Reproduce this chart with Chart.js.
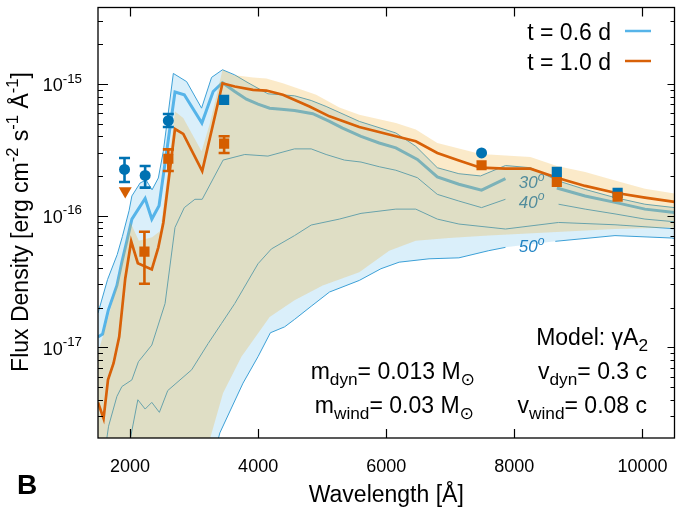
<!DOCTYPE html>
<html><head><meta charset="utf-8">
<script src="https://cdn.jsdelivr.net/npm/chart.js@4.4.1/dist/chart.umd.min.js"></script>
<style>html,body{margin:0;padding:0;background:#fff;}#wrap{position:relative;width:682px;height:519px;}</style>
</head><body><div id="wrap"><canvas id="c"></canvas></div>
<script>
// ---------------- data ----------------
const xTicks = [2000, 4000, 6000, 8000, 10000];
const yDecades = [-15, -16, -17];
const xRange = [1500, 10500];
const yRange = [2.05e-18, 3.8e-15];

// t = 0.6 d model band (blue): upper envelope and 50 deg lower envelope
const blueTopWl = [1500,1650,1800,1880,1985,2029,2158,2251,2344,2442,2520,2676,2884,3117,3273,3444,3635,3842,4153,4568,4828,5061,5579,6150,6461,6797,7134,7472,7861,8250,8690,9105,9571,10038,10500];
const blueTopFlux = [1.82e-17,3.28e-17,5.06e-17,6.92e-17,1.09e-16,1.41e-16,1.77e-16,1.86e-16,1.57e-16,1.93e-16,3.08e-16,1.20e-15,1.04e-15,6.54e-16,1.12e-15,1.28e-15,1.17e-15,1.02e-15,8.41e-16,8.12e-16,7.48e-16,6.74e-16,5.19e-16,4.24e-16,3.36e-16,2.31e-16,2.08e-16,2.00e-16,2.40e-16,2.31e-16,1.83e-16,1.58e-16,1.37e-16,1.22e-16,1.15e-16];
const blue50Wl = [1500,3000,3402,3764,3998,4191,4413,4569,4828,5114,5579,5917,6201,6668,7134,7601,7861,8250,8639,9571,10452,10500];
const blue50Flux = [1e-20,4e-19,2.24e-18,5.35e-18,8.49e-18,1.29e-17,1.43e-17,1.63e-17,2.05e-17,2.63e-17,3.22e-17,3.95e-17,4.43e-17,4.70e-17,4.78e-17,5.42e-17,5.74e-17,null,6.38e-17,7.05e-17,6.76e-17,6.70e-17];
// t = 0.6 d: 30 deg (thick), 40 deg, and intermediate angle
const blue30Wl = [1500,1572,1660,1795,1878,1951,2029,2236,2340,2453,2702,2847,3122,3298,3444,3635,3817,3998,4180,4362,4568,4853,5113,5319,5606,5890,6150,6486,6797,7134,7488,7861,8250,8663,9105,9571,10038,10500];
const blue30Flux = [1.20e-17,1.26e-17,1.91e-17,2.95e-17,4.56e-17,6.44e-17,9.41e-17,1.35e-16,9.41e-17,1.19e-16,8.67e-16,8.26e-16,5.04e-16,8.75e-16,1.02e-15,8.75e-16,7.65e-16,7.01e-16,6.54e-16,6.43e-16,6.29e-16,5.94e-16,5.19e-16,4.62e-16,4.00e-16,3.56e-16,3.27e-16,2.67e-16,1.97e-16,1.73e-16,1.56e-16,1.91e-16,null,1.62e-16,1.41e-16,1.26e-16,1.12e-16,1.055e-16];
const blue40Wl = [1500,1640,1665,1795,1873,2029,2131,2340,2547,2702,2847,3013,3127,3453,3791,4153,4568,4828,5061,5346,5606,5890,6150,6486,6797,7134,7488,7861,8250,8690,9105,9571,10038,10500];
const blue40Flux = [8e-19,2.07e-18,2.52e-18,4.24e-18,5.04e-18,5.66e-18,7.78e-18,1.04e-17,2.15e-17,8.13e-17,1.15e-16,1.33e-16,1.33e-16,2.64e-16,2.91e-16,2.83e-16,3.21e-16,3.21e-16,2.91e-16,2.64e-16,2.55e-16,2.35e-16,2.21e-16,1.94e-16,1.45e-16,1.29e-16,1.15e-16,1.33e-16,null,1.22e-16,1.12e-16,1.03e-16,9.41e-17,8.98e-17];
const blueMidWl = [1800,2002,2122,2236,2340,2458,2589,2962,3220,3429,3635,3998,4206,4568,4828,5268,5606,6150,6461,6797,7134,7861,8690,9571,10500];
const blueMidFlux = [8e-19,1.99e-18,4.00e-18,3.40e-18,3.82e-18,3.21e-18,4.70e-18,6.75e-18,1.07e-17,1.52e-17,2.15e-17,4.31e-17,5.58e-17,7.05e-17,8.48e-17,9.41e-17,1.04e-16,1.12e-16,1.12e-16,9.41e-17,8.63e-17,7.91e-17,8.87e-17,8.52e-17,7.95e-17];

// t = 1.0 d model band (orange) and its main curve
const orangeTopWl = [1500,1618,1749,1878,2007,2138,2344,2474,2551,2702,2831,3117,3246,3444,3609,3920,4128,4386,4906,5268,5579,6150,6461,6797,7472,8250,8663,9105,9571,10038,10500];
const orangeTopFlux = [9.06e-18,1.43e-17,2.41e-17,4.56e-17,8.87e-17,6.45e-17,6.84e-17,7.68e-17,1.54e-16,6.18e-16,5.50e-16,3.08e-16,5.01e-16,1.28e-15,1.17e-15,1.12e-15,1.10e-15,1.01e-15,8.26e-16,6.62e-16,5.83e-16,5.04e-16,4.50e-16,3.56e-16,2.93e-16,2.79e-16,2.38e-16,2.14e-16,1.85e-16,1.60e-16,1.47e-16];
const orangeBotWl = [1500,3000,3246,3453,3739,4180,4568,5008,5579,6046,6461,6979,7601,9571,10500];
const orangeBotFlux = [1e-20,4e-19,2.0e-18,4.50e-18,8.49e-18,1.70e-17,2.28e-17,2.95e-17,3.72e-17,5.42e-17,6.45e-17,6.76e-17,7.05e-17,7.91e-17,8.13e-17];
const orangeWl = [1500,1587,1656,1743,1831,1925,2018,2122,2340,2442,2520,2702,2831,3127,3444,3635,3920,4128,4386,4802,5113,5579,6150,6461,6797,7134,7472,7861,8250,8690,9105,9571,10038,10500];
const orangeFlux = [3.82e-18,2.88e-18,5.66e-18,7.57e-18,1.20e-17,3.32e-17,6.38e-17,4.35e-17,3.90e-17,5.74e-17,8.83e-17,4.54e-16,4.17e-16,2.18e-16,1.01e-15,9.55e-16,9.01e-16,8.90e-16,8.26e-16,6.74e-16,5.67e-16,4.70e-16,4.00e-16,3.67e-16,2.99e-16,2.62e-16,2.31e-16,2.27e-16,2.27e-16,1.92e-16,1.68e-16,1.49e-16,1.37e-16,1.27e-16];

// observations t = 0.6 d (blue)
const obs06CircWl = [1914, 2236, 2598, 7488];
const obs06CircFlux = [2.24e-16, 2.02e-16, 5.26e-16, 2.99e-16];
const obs06CircLo = [1.80e-16, 1.63e-16, 4.70e-16, null];
const obs06CircHi = [2.74e-16, 2.38e-16, 5.90e-16, null];
const obs06SqWl = [3469, 8663, 9612];
const obs06SqFlux = [7.57e-16, 2.15e-16, 1.49e-16];
// observations t = 1.0 d (orange)
const obs10SqWl = [2225, 2598, 3469, 7488, 8663, 9612];
const obs10SqFlux = [5.33e-17, 2.70e-16, 3.52e-16, 2.41e-16, 1.80e-16, 1.39e-16];
const obs10SqLo = [3.04e-17, 2.18e-16, 2.99e-16, null, null, null];
const obs10SqHi = [7.55e-17, 3.18e-16, 4.00e-16, null, null, null];
const obs10LimWl = [1925];
const obs10LimFlux = [1.54e-16];

const angleLabels = ['30', '40', '50'];
const angleLabelWl = [8270, 8270, 8270];
const angleLabelFlux = [1.62e-16, 1.15e-16, 5.27e-17];

// ---------------- helpers ----------------
const pts = (xs, ys) => xs.map((x, i) => ({x, y: ys[i]}));
const ptsNoGap = (xs, ys) => pts(xs, ys).filter(p => p.y !== null);
const FAM = '"Liberation Sans", Arial, Helvetica, "DejaVu Sans", sans-serif';
const fnt = (sz, st) => (st ? st + ' ' : '') + sz + 'px ' + FAM;
function richW(ctx, parts, base) {
  let w = 0;
  for (const p of parts) { ctx.font = fnt(base * (p.s || 1), p.st); w += ctx.measureText(p.t).width; }
  return w;
}
function drawRich(ctx, parts, x, y, base, align, color, st) {
  parts = parts.map(p => Object.assign({st}, p));
  const w = richW(ctx, parts, base);
  let cx = align === 'right' ? x - w : align === 'center' ? x - w / 2 : x;
  ctx.fillStyle = color; ctx.textAlign = 'left'; ctx.textBaseline = 'alphabetic';
  for (const p of parts) {
    ctx.font = fnt(base * (p.s || 1), p.st);
    ctx.fillText(p.t, cx, y + (p.dy || 0) * base);
    cx += ctx.measureText(p.t).width;
  }
}
const SUB = (t) => ({t, s: 0.75, dy: 0.25});
const SUP = (t) => ({t, s: 0.72, dy: -0.42});

const BLUE = '#56B4E9', THIN = 'rgb(60,160,215)', ORANGE = '#D86108';
const OBS_BLUE = '#0072B2', OBS_OR = '#D55E00';

// ---------------- datasets (drawn bottom -> top) ----------------
const line = (data, color, w, extra) => Object.assign({
  data, borderColor: color, borderWidth: w, pointRadius: 0, pointHoverRadius: 0,
  fill: false, tension: 0, spanGaps: false
}, extra || {});
const datasets = [
  line(pts(blueTopWl, blueTopFlux), THIN, 1, {fill: {target: 1}, backgroundColor: 'rgba(86,180,233,0.22)'}), // 0
  line(ptsNoGap(blue50Wl, blue50Flux), 'rgba(0,0,0,0)', 0),                                                     // 1
  line(pts(blue50Wl, blue50Flux), THIN, 1),                                                                      // 2
  line(pts(blueMidWl, blueMidFlux), THIN, 1),                                                                    // 3
  line(pts(blue40Wl, blue40Flux), THIN, 1),                                                                      // 4
  line(pts(blue30Wl, blue30Flux), BLUE, 3),                                                                      // 5
  line(pts(orangeTopWl, orangeTopFlux), 'rgba(0,0,0,0)', 0, {fill: {target: 7}, backgroundColor: 'rgba(240,170,40,0.25)'}), // 6
  line(pts(orangeBotWl, orangeBotFlux), 'rgba(0,0,0,0)', 0),                                                     // 7
  line(pts(orangeWl, orangeFlux), ORANGE, 2.7),                                                                  // 8
  {data: pts(obs06CircWl, obs06CircFlux), showLine: false, pointStyle: 'circle', pointRadius: 5.5, backgroundColor: OBS_BLUE, borderWidth: 0, pointBorderWidth: 0}, // 9
  {data: pts(obs06SqWl, obs06SqFlux), showLine: false, pointStyle: 'rect', pointRadius: 7.2, backgroundColor: OBS_BLUE, borderWidth: 0, pointBorderWidth: 0},    // 10
  {data: pts(obs10SqWl, obs10SqFlux), showLine: false, pointStyle: 'rect', pointRadius: 7.2, backgroundColor: OBS_OR, borderWidth: 0, pointBorderWidth: 0},      // 11
  {data: pts(obs10LimWl, obs10LimFlux), showLine: false, pointStyle: 'triangle', rotation: 180, pointRotation: 180, pointRadius: 7.5, backgroundColor: OBS_OR, borderWidth: 0, pointBorderWidth: 0} // 12
];
datasets.forEach((d, i) => { d.order = -i; });
const errorBars = {
  9: {lo: obs06CircLo, hi: obs06CircHi, color: OBS_BLUE},
  11: {lo: obs10SqLo, hi: obs10SqHi, color: OBS_OR}
};

const decorPlugin = {
  id: 'decor',
  beforeDatasetDraw(chart, args) {
    const eb = errorBars[args.index];
    if (!eb) return;
    const {ctx, scales: {x, y}} = chart;
    const ds = chart.data.datasets[args.index];
    ctx.save(); ctx.strokeStyle = eb.color; ctx.lineWidth = 2.6;
    ds.data.forEach((p, i) => {
      if (eb.lo[i] == null) return;
      const px = x.getPixelForValue(p.x), yl = y.getPixelForValue(eb.lo[i]), yh = y.getPixelForValue(eb.hi[i]);
      ctx.beginPath();
      ctx.moveTo(px, yl); ctx.lineTo(px, yh);
      ctx.moveTo(px - 5.5, yl); ctx.lineTo(px + 5.5, yl);
      ctx.moveTo(px - 5.5, yh); ctx.lineTo(px + 5.5, yh);
      ctx.stroke();
    });
    ctx.restore();
  },
  afterDatasetDraw(chart, args) {
    if (args.index !== 5) return;
    const {ctx, scales: {x, y}} = chart;
    ctx.save();
    angleLabels.forEach((t, i) => {
      drawRich(ctx, [{t}, SUP('o')], x.getPixelForValue(angleLabelWl[i]), y.getPixelForValue(angleLabelFlux[i]), 17, 'center', 'rgb(30,130,195)', 'italic');
    });
    ctx.restore();
  },
  afterDraw(chart) {
    const {ctx, chartArea: a, scales: {x, y}} = chart;
    ctx.save();
    ctx.strokeStyle = '#000'; ctx.lineWidth = 1.3;
    ctx.strokeRect(a.left, a.top, a.right - a.left, a.bottom - a.top);
    ctx.lineWidth = 1.2; ctx.beginPath();
    for (const v of xTicks) {
      const px = Math.round(x.getPixelForValue(v)) + 0.5;
      ctx.moveTo(px, a.bottom); ctx.lineTo(px, a.bottom - 9);
      ctx.moveTo(px, a.top); ctx.lineTo(px, a.top + 9);
    }
    for (let e = -18; e <= -15; e++) for (let m = 1; m <= 9; m++) {
      const v = m * Math.pow(10, e);
      if (v < yRange[0] || v > yRange[1]) continue;
      const py = Math.round(y.getPixelForValue(v)) + 0.5;
      ctx.moveTo(a.left, py); ctx.lineTo(a.left + (m === 1 ? 10 : 5), py);
      ctx.moveTo(a.right, py); ctx.lineTo(a.right - (m === 1 ? 7 : 4), py);
    }
    ctx.stroke();
    // tick labels
    ctx.fillStyle = '#000'; ctx.font = fnt(18); ctx.textAlign = 'center'; ctx.textBaseline = 'alphabetic';
    for (const v of xTicks) ctx.fillText(String(v), x.getPixelForValue(v), 472);
    for (const e of yDecades) {
      const py = y.getPixelForValue(Math.pow(10, e));
      drawRich(ctx, [{t: '10'}, {t: String(e), s: 0.74, dy: -0.48}], a.left - 16, py + 7.5, 18, 'right', '#000');
    }
    // axis titles
    drawRich(ctx, [{t: 'Wavelength [Å]'}], (a.left + a.right) / 2, 502, 23, 'center', '#000');
    ctx.save(); ctx.translate(28, 222); ctx.rotate(-Math.PI / 2);
    drawRich(ctx, [{t: 'Flux Density [erg cm'}, SUP('-2'), {t: ' s'}, SUP('-1'), {t: ' Å'}, SUP('-1'), {t: ']'}], 0, 0, 23, 'center', '#000');
    ctx.restore();
    // legend
    drawRich(ctx, [{t: 't = 0.6 d'}], 611, 40, 23, 'right', '#000');
    drawRich(ctx, [{t: 't = 1.0 d'}], 611, 70, 23, 'right', '#000');
    ctx.lineWidth = 2.5;
    ctx.strokeStyle = BLUE; ctx.beginPath(); ctx.moveTo(625, 31); ctx.lineTo(651, 31); ctx.stroke();
    ctx.strokeStyle = ORANGE; ctx.beginPath(); ctx.moveTo(625, 61); ctx.lineTo(651, 61); ctx.stroke();
    // model annotations
    drawRich(ctx, [{t: 'Model: γA'}, SUB('2')], 648, 345, 23, 'right', '#000');
    drawRich(ctx, [{t: 'v'}, SUB('dyn'), {t: '= 0.3 c'}], 647, 379, 23, 'right', '#000');
    drawRich(ctx, [{t: 'v'}, SUB('wind'), {t: '= 0.08 c'}], 647, 413, 23, 'right', '#000');
    drawRich(ctx, [{t: 'm'}, SUB('dyn'), {t: '= 0.013 M'}, SUB('⊙')], 475, 379, 23, 'right', '#000');
    drawRich(ctx, [{t: 'm'}, SUB('wind'), {t: '= 0.03 M'}, SUB('⊙')], 474, 413, 23, 'right', '#000');
    // panel letter
    ctx.fillStyle = '#000'; ctx.font = fnt(28, 'bold'); ctx.textAlign = 'left';
    ctx.fillText('B', 17, 494);
    ctx.restore();
  }
};

new Chart(document.getElementById('c'), {
  type: 'line',
  data: {datasets},
  options: {
    responsive: true, maintainAspectRatio: false, animation: false, events: [],
    devicePixelRatio: 1,
    layout: {padding: {left: 98, right: 6, top: 5, bottom: 81}},
    scales: {
      x: {type: 'linear', min: xRange[0], max: xRange[1], display: false},
      y: {type: 'logarithmic', min: yRange[0], max: yRange[1], display: false}
    },
    plugins: {legend: {display: false}, tooltip: {enabled: false}, filler: {propagate: false}}
  },
  plugins: [decorPlugin]
});
</script></body></html>
